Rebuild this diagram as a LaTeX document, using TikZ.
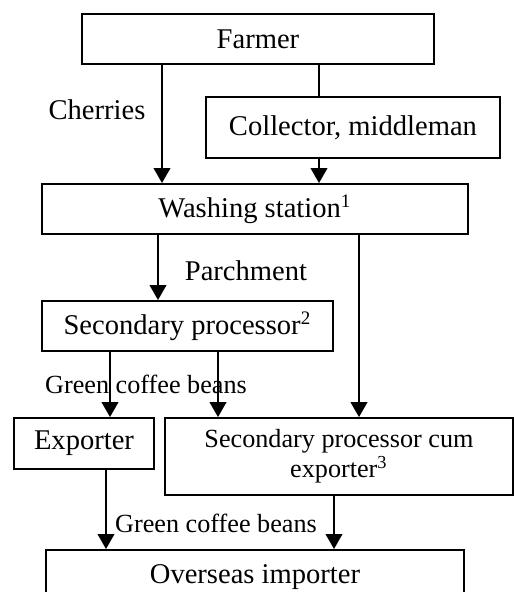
\documentclass[tikz,border=0pt]{standalone}
\usepackage{fontspec}
\setmainfont{Liberation Serif}
\usepackage{tikz}
\usetikzlibrary{positioning, arrows.meta}

\begin{document}
\begin{tikzpicture}[x=0.42pt, y=-0.42pt,
    box/.style={draw, line width=0.8pt, inner sep=0pt, font=\fontsize{12}{14}\selectfont},
    flow/.style={-{Triangle[length=6.3pt, width=7pt]}, line width=0.8pt},
    lbl/.style={inner sep=0pt, font=\fontsize{12}{14}\selectfont},
    smalllbl/.style={inner sep=0pt, font=\fontsize{11}{13}\selectfont}]
    \useasboundingbox (0,0) rectangle (514,592);

    % Growing and collecting
    \node[box, minimum width=147.8pt, minimum height=21pt] (farmer) at (258,39) {Farmer};
    \node[box, minimum width=123.5pt, minimum height=25.6pt] (collector) at (353,127.5) {Collector, middleman};
    \node[box, minimum width=178.9pt, minimum height=21pt] (washing) at (255,209) {Washing station\textsuperscript{1}};

    % Processing
    \node[box, minimum width=122.2pt, minimum height=21pt] (secproc) at (187.5,326) {Secondary processor\textsuperscript{2}};
    \node[box, minimum width=58.8pt, minimum height=21.4pt] (exporter) at (84,443.5) {Exporter};
    \node[box, minimum width=146.2pt, minimum height=32.3pt, align=center,
        font=\fontsize{11}{10.5}\selectfont] (spce) at (339,456.5) {Secondary processor cum\\exporter\textsuperscript{3}};

    % Abroad
    \node[box, minimum width=175.6pt, minimum height=22.7pt] (overseas) at (255,577) {Overseas importer};

    % Labels
    \node[lbl] (cherries) at (97,110) {Cherries};
    \node[lbl] (parchment) at (246,271) {Parchment};
    \node[smalllbl] (green1) at (146,384) {Green coffee beans};
    \node[smalllbl] (green2) at (216,523) {Green coffee beans};

    % Connections
    \draw[line width=0.8pt] (farmer.south -| 319,0) -- (collector.north -| 319,0);
    \foreach \a/\b/\x in {farmer/washing/162, collector/washing/319, washing/secproc/158,
        washing/spce/359, secproc/exporter/110, secproc/spce/218,
        exporter/overseas/106, spce/overseas/334} {
        \draw[flow] (\a.south -| \x,0) -- (\b.north -| \x,0);
    }
\end{tikzpicture}
\end{document}
